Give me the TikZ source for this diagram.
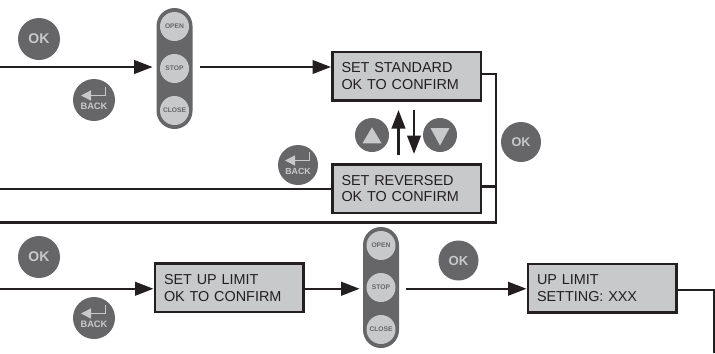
\documentclass[tikz,border=0pt]{standalone}
\usepackage{fontspec}
\setmainfont{Liberation Sans}
\usetikzlibrary{arrows.meta}
\definecolor{btndark}{HTML}{666668}
\definecolor{btnlight}{HTML}{C8C9CA}
\definecolor{linedark}{HTML}{231F20}
\tikzset{
  flow/.style={draw=linedark,line width=0.05cm,-{Triangle[length=0.37cm,width=0.27cm]}},
  link/.style={draw=linedark,line width=0.05cm},
  lcdbox/.style={rectangle,draw=linedark,line width=0.05cm,fill=btnlight,text=linedark,minimum width=2.97cm,minimum height=0.97cm,text width=2.6cm,inner xsep=0.185cm,inner ysep=0cm,align=left,font=\fontsize{8.2}{9.5}\selectfont,execute at end node={\par\vskip1.1pt}},
  roundbtn/.style={circle,fill=btndark,text=btnlight,inner sep=0pt,font=\bfseries},
  padbtn/.style={circle,fill=btnlight,text=btndark,inner sep=0pt,minimum size=0.58cm,font=\bfseries\fontsize{3.8}{4}\selectfont},
  padbody/.style={rectangle,fill=btndark,rounded corners=0.36cm,minimum width=0.72cm,minimum height=2.42cm,inner sep=0pt},
  backarrow/.style={draw=btnlight,line width=0.03cm,-{Triangle[length=0.2cm,width=0.2cm]}}
}
\newcommand{\backbtn}[4]{
  \node[roundbtn,minimum size=#3cm,font=\bfseries\fontsize{#4}{6}\selectfont] (#1) at (#2) {\raisebox{-0.18cm}[0pt][0pt]{BACK}};
  \draw[backarrow] ([shift={(0.23,0.26)}]#1.center) -- ++(0,-0.17) -- ++(-0.49,0);
}
\newcommand{\ctrlpad}[2]{
  \node[padbody] (#1) at (#2) {};
  \node[padbtn] (#1open) at ([yshift=0.84cm]#1.center) {OPEN};
  \node[padbtn] (#1stop) at (#1.center) {STOP};
  \node[padbtn] (#1close) at ([yshift=-0.84cm]#1.center) {CLOSE};
}
\begin{document}
\begin{tikzpicture}
\useasboundingbox (0,0) rectangle (14.3,7.06);

\node[roundbtn,minimum size=0.84cm,font=\bfseries\fontsize{8}{9}\selectfont] (okA) at (0.78,6.28) {OK};
\backbtn{backA}{1.88,5.06}{0.84}{5.3}
\ctrlpad{padA}{3.49,5.69}
\node[lcdbox] (stdbox) at (8.13,5.54) {SET STANDARD\\OK TO CONFIRM};
\node[lcdbox] (revbox) at (8.13,3.29) {SET REVERSED\\OK TO CONFIRM};
\backbtn{backB}{5.96,3.76}{0.8}{5}
\node[roundbtn,minimum size=0.68cm] (upbtn) at (7.44,4.36) {};
\node[roundbtn,minimum size=0.68cm] (downbtn) at (8.8,4.36) {};
\fill[btnlight] ([shift={(-0.19,-0.165)}]upbtn.center) -- ([shift={(0.19,-0.165)}]upbtn.center) -- ([shift={(0,0.155)}]upbtn.center) -- cycle;
\fill[btnlight] ([shift={(-0.19,0.14)}]downbtn.center) -- ([shift={(0.19,0.14)}]downbtn.center) -- ([shift={(0,-0.21)}]downbtn.center) -- cycle;
\node[roundbtn,minimum size=0.8cm,font=\bfseries\fontsize{7.2}{8}\selectfont] (okB) at (10.42,4.22) {OK};

\coordinate (inA) at (0,5.72);
\coordinate (inB) at (0,3.28);
\coordinate (inC) at (0,2.61);
\coordinate (corner) at (9.92,2.61);
\coordinate (upfrom) at (7.97,3.96);
\coordinate (upto) at (7.97,4.86);
\coordinate (downfrom) at (8.28,4.86);
\coordinate (downto) at (8.28,3.98);

\draw[flow,shorten >=0.07cm] (inA) -- (inA -| padA.west);
\draw[flow,shorten <=0.14cm] (inA -| padA.east) -- (inA -| stdbox.west);
\draw[flow] (upfrom) -- (upto);
\draw[flow] (downfrom) -- (downto);
\draw[link] ([yshift=0.04cm]stdbox.east) -| (corner) -- (inC);
\draw[link] ([yshift=0.04cm]revbox.east) -- ([yshift=0.04cm]revbox.east -| corner);
\draw[link] (inB) -- (inB -| revbox.west);

\node[roundbtn,minimum size=0.84cm,font=\bfseries\fontsize{8}{9}\selectfont] (okC) at (0.78,1.92) {OK};
\backbtn{backC}{1.88,0.7}{0.84}{5.3}
\node[lcdbox] (setup) at (4.58,1.305) {SET UP LIMIT\\OK TO CONFIRM};
\ctrlpad{padB}{7.62,1.31}
\node[roundbtn,minimum size=0.8cm,font=\bfseries\fontsize{7.5}{8}\selectfont] (okD) at (9.17,1.85) {OK};
\node[lcdbox] (limit) at (12.04,1.3) {UP LIMIT\\SETTING: XXX};

\coordinate (inD) at (0,1.285);
\coordinate (outD) at (14.28,0);

\draw[flow] (inD) -- (inD -| setup.west);
\draw[flow,shorten >=0.06cm] (inD -| setup.east) -- (inD -| padB.west);
\draw[flow,shorten <=0.14cm] (inD -| padB.east) -- (inD -| limit.west);
\draw[link] ([yshift=-0.04cm]limit.east) -| (outD);
\end{tikzpicture}
\end{document}
